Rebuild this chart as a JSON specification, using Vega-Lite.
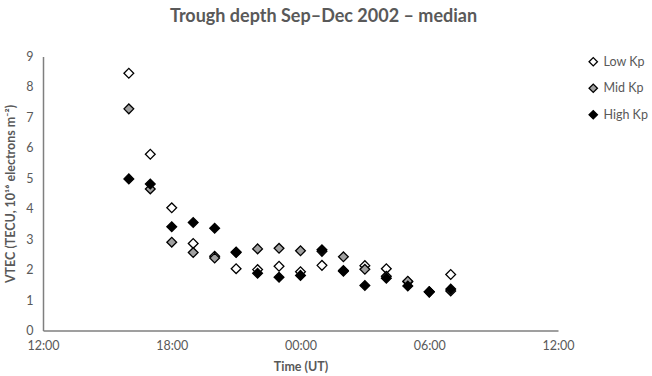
{
  "$schema": "https://vega.github.io/schema/vega-lite/v6.json",
  "width": 515,
  "height": 274,
  "autosize": {"type": "none"},
  "padding": {"left": 43, "top": 56.5, "right": 94, "bottom": 45.5},
  "background": "white",
  "title": {
    "text": "Trough depth Sep–Dec 2002 – median",
    "font": "Lato",
    "fontSize": 18,
    "fontWeight": "bold",
    "color": "#595959",
    "anchor": "middle",
    "frame": "group",
    "dx": 23,
    "offset": 25
  },
  "config": {
    "view": {"stroke": null},
    "font": "Lato"
  },
  "data": {
    "values": [
      {"t": 16, "series": "Low Kp", "v": 8.45},
      {"t": 17, "series": "Low Kp", "v": 5.79},
      {"t": 18, "series": "Low Kp", "v": 4.03},
      {"t": 19, "series": "Low Kp", "v": 2.86},
      {"t": 20, "series": "Low Kp", "v": 2.44},
      {"t": 21, "series": "Low Kp", "v": 2.03},
      {"t": 22, "series": "Low Kp", "v": 2.0},
      {"t": 23, "series": "Low Kp", "v": 2.11},
      {"t": 24, "series": "Low Kp", "v": 1.93},
      {"t": 25, "series": "Low Kp", "v": 2.14},
      {"t": 26, "series": "Low Kp", "v": 1.95},
      {"t": 27, "series": "Low Kp", "v": 2.13},
      {"t": 28, "series": "Low Kp", "v": 2.03},
      {"t": 29, "series": "Low Kp", "v": 1.6},
      {"t": 30, "series": "Low Kp", "v": 1.27},
      {"t": 31, "series": "Low Kp", "v": 1.84},
      {"t": 16, "series": "Mid Kp", "v": 7.28},
      {"t": 17, "series": "Mid Kp", "v": 4.65},
      {"t": 18, "series": "Mid Kp", "v": 2.9},
      {"t": 19, "series": "Mid Kp", "v": 2.56},
      {"t": 20, "series": "Mid Kp", "v": 2.38},
      {"t": 21, "series": "Mid Kp", "v": 2.58},
      {"t": 22, "series": "Mid Kp", "v": 2.68},
      {"t": 23, "series": "Mid Kp", "v": 2.7},
      {"t": 24, "series": "Mid Kp", "v": 2.62},
      {"t": 25, "series": "Mid Kp", "v": 2.6},
      {"t": 26, "series": "Mid Kp", "v": 2.42},
      {"t": 27, "series": "Mid Kp", "v": 2.01},
      {"t": 28, "series": "Mid Kp", "v": 1.78},
      {"t": 29, "series": "Mid Kp", "v": 1.62},
      {"t": 30, "series": "Mid Kp", "v": 1.27},
      {"t": 31, "series": "Mid Kp", "v": 1.3},
      {"t": 16, "series": "High Kp", "v": 4.98},
      {"t": 17, "series": "High Kp", "v": 4.81},
      {"t": 18, "series": "High Kp", "v": 3.41},
      {"t": 19, "series": "High Kp", "v": 3.55},
      {"t": 20, "series": "High Kp", "v": 3.36},
      {"t": 21, "series": "High Kp", "v": 2.56},
      {"t": 22, "series": "High Kp", "v": 1.88},
      {"t": 23, "series": "High Kp", "v": 1.75},
      {"t": 24, "series": "High Kp", "v": 1.81},
      {"t": 25, "series": "High Kp", "v": 2.65},
      {"t": 26, "series": "High Kp", "v": 1.97},
      {"t": 27, "series": "High Kp", "v": 1.48},
      {"t": 28, "series": "High Kp", "v": 1.72},
      {"t": 29, "series": "High Kp", "v": 1.46},
      {"t": 30, "series": "High Kp", "v": 1.27},
      {"t": 31, "series": "High Kp", "v": 1.36}
    ]
  },
  "mark": {"type": "point", "shape": "diamond", "filled": false, "size": 95, "stroke": "black", "strokeWidth": 1.3, "opacity": 1},
  "encoding": {
    "x": {
      "field": "t",
      "type": "quantitative",
      "scale": {"domain": [12, 36], "nice": false, "zero": false},
      "axis": {
        "values": [12, 18, 24, 30, 36],
        "labelExpr": "(datum.value % 24 < 10 ? '0' : '') + (datum.value % 24) + ':00'",
        "title": "Time (UT)",
        "grid": false,
        "ticks": false,
        "domainColor": "#7f7f7f",
        "domainWidth": 1.5,
        "labelColor": "#595959",
        "labelFontSize": 12.5,
        "labelPadding": 9,
        "labelFlush": false,
        "titleColor": "#595959",
        "titleFontSize": 12.5,
        "titleFontWeight": "bold",
        "titlePadding": 8
      }
    },
    "y": {
      "field": "v",
      "type": "quantitative",
      "scale": {"domain": [0, 9], "nice": false},
      "axis": {
        "values": [0, 1, 2, 3, 4, 5, 6, 7, 8, 9],
        "title": "VTEC (TECU, 10¹⁶ electrons m⁻²)",
        "grid": false,
        "ticks": false,
        "domainColor": "#7f7f7f",
        "domainWidth": 1.5,
        "labelColor": "#595959",
        "labelFontSize": 12.5,
        "labelPadding": 10,
        "titleColor": "#595959",
        "titleFontSize": 12.5,
        "titleFontWeight": "bold",
        "titlePadding": 8
      }
    },
    "fill": {
      "field": "series",
      "type": "nominal",
      "scale": {"domain": ["Low Kp", "Mid Kp", "High Kp"], "range": ["#ffffff", "#a0a0a0", "#000000"]},
      "legend": {
        "title": null,
        "orient": "none",
        "legendX": 544,
        "legendY": -1,
        "padding": 0,
        "symbolType": "diamond",
        "symbolSize": 70,
        "symbolStrokeColor": "black",
        "symbolStrokeWidth": 1.3,
        "labelColor": "#595959",
        "labelFontSize": 12.5,
        "labelFontWeight": "normal",
        "labelOffset": 4,
        "rowPadding": 11.5
      }
    }
  }
}
